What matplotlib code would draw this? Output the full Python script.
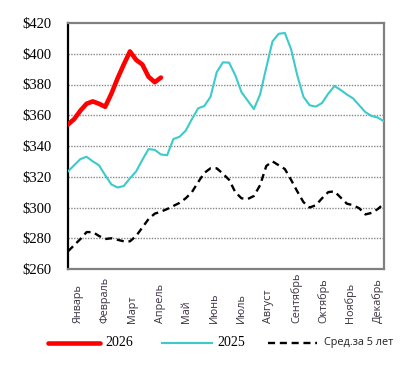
import matplotlib
matplotlib.use("Agg")
import matplotlib.pyplot as plt
import matplotlib.transforms as mtransforms
from matplotlib.lines import Line2D

months = ["Январь", "Февраль", "Март", "Апрель", "Май", "Июнь", "Июль",
          "Август", "Сентябрь", "Октябрь", "Ноябрь", "Декабрь"]
month_pos = [1.6, 6.0, 10.4, 14.9, 19.2, 23.7, 28.0, 32.4, 36.9, 41.3, 45.6, 50.0]

y_ticks = [260, 280, 300, 320, 340, 360, 380, 400, 420]
y_labels = ["$260", "$280", "$300", "$320", "$340", "$360", "$380", "$400", "$420"]

s2026 = [354, 357.5, 363, 367.5, 369, 367.5, 365.5, 374, 384, 393, 401.5,
         396, 393, 385, 381.5, 384.5]

s2025 = [323.5, 327.5, 331.5, 333, 330, 327.5, 321, 315, 313, 314, 319,
         323.5, 331, 338, 337.5, 334.5, 334, 344.5, 346, 350, 357.5, 364.5,
         366, 372, 388, 394.4, 394.2, 386, 375, 369.5, 364, 373.5, 391, 408,
         413, 413.5, 403, 386, 372, 366.5, 365.6, 368, 374, 379, 376.5, 373.5,
         371, 366.5, 362, 359.5, 358.5, 356]

avg5 = [271.5, 275.5, 279.5, 284, 284, 281.5, 279.5, 280, 279, 278, 278,
        281.5, 287, 292.5, 296, 297.3, 299, 301, 303, 306, 310, 316.5, 322.5,
        325.5, 325.5, 322, 318, 310, 306, 305.5, 307.5, 314.5, 327, 330,
        327.5, 325, 318, 310.5, 303.5, 300, 301.5, 306, 310, 310.5, 306.5,
        302.5, 301.5, 299.5, 295.5, 296.5, 299, 302.5]

legend_labels = ["2026", "2025", "Сред.за 5 лет"]

W, H = 413, 381
fig = plt.figure(figsize=(W / 100, H / 100), dpi=100)
ax = fig.add_axes([68 / W, 1 - 269 / H, (384 - 68) / W, (269 - 23) / H])

cyan = "#3CCACA"
ax.plot(range(len(avg5)), avg5, color="black", lw=1.7, ls=(0, (3, 2)),
        zorder=3)
ax.plot(range(len(s2025)), s2025, color=cyan, lw=1.5, zorder=4,
        solid_joinstyle="round")
ax.plot(range(len(s2026)), s2026, color="#FF0000", lw=3.3, zorder=5,
        solid_capstyle="round", solid_joinstyle="round")

ax.set_xlim(0, 51)
ax.set_ylim(260, 420)
ax.set_yticks(y_ticks)
ax.set_yticklabels(y_labels, family="Liberation Serif", fontsize=10.5)
ax.tick_params(axis="y", length=0, pad=12)
ax.set_xticks([])
for y in y_ticks[1:-1]:
    ax.axhline(y, color="#888888", lw=1.0, ls=(0, (1, 1)), zorder=1)

for side in ["top", "right", "bottom"]:
    ax.spines[side].set_color("#808080")
    ax.spines[side].set_linewidth(1.6)
ax.spines["left"].set_color("black")
ax.spines["left"].set_linewidth(1.6)

trans = mtransforms.blended_transform_factory(ax.transData, ax.transAxes)
for p, m in zip(month_pos, months):
    ax.text(p, -0.22, m, transform=trans, rotation=90, rotation_mode="anchor",
            ha="left", va="center", fontsize=7.8, family="Open Sans",
            color="#3a3040")

# manual legend
ly = 1 - 343 / H
fig.add_artist(Line2D([48 / W, 100 / W], [ly, ly], color="#FF0000", lw=3.3,
                      solid_capstyle="round"))
fig.text(105 / W, ly, legend_labels[0], family="Liberation Serif",
         fontsize=10, va="center", ha="left")
fig.add_artist(Line2D([162 / W, 212 / W], [ly, ly], color=cyan, lw=1.5))
fig.text(217 / W, ly, legend_labels[1], family="Liberation Serif",
         fontsize=10, va="center", ha="left")
fig.add_artist(Line2D([268 / W, 317 / W], [ly, ly], color="black", lw=1.7,
                      ls=(0, (3, 2))))
fig.text(324 / W, ly, legend_labels[2], family="Open Sans",
         fontsize=7.8, va="center", ha="left", color="#222222")

fig.savefig("out.png", dpi=100)
